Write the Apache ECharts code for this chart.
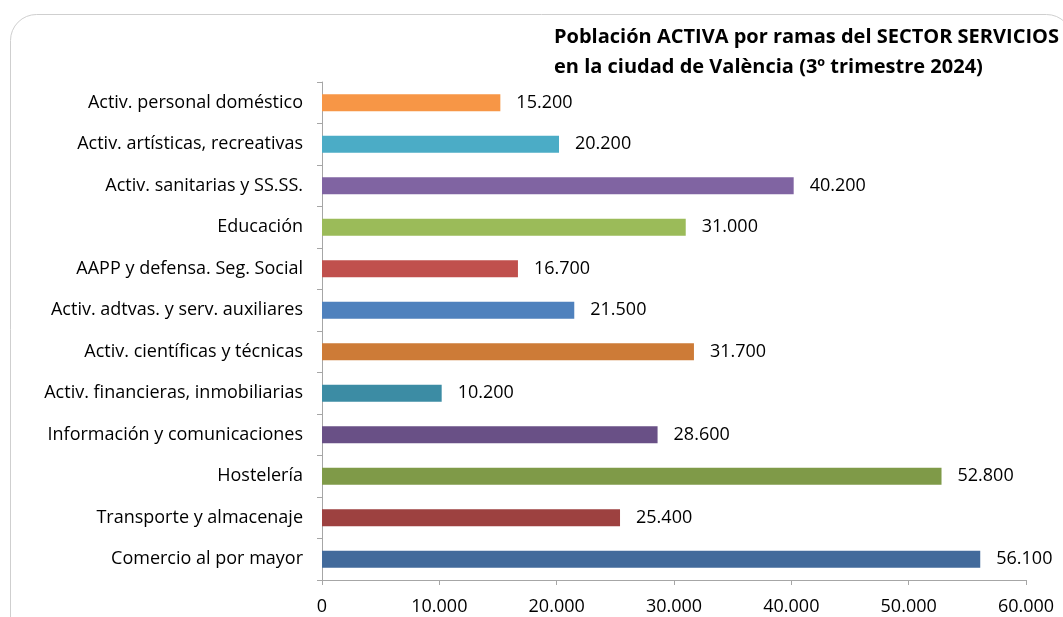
<!DOCTYPE html>
<html>
<head>
<meta charset="utf-8">
<script src="https://cdn.jsdelivr.net/npm/echarts@6/dist/echarts.min.js"></script>
<style>
html,body{margin:0;padding:0;background:#fff;}
#chart{width:1063px;height:617px;}
</style>
</head>
<body>
<div id="chart"></div>
<script>
// categorías (de abajo arriba, como las pinta el eje)
var categorias = ["Comercio al por mayor", "Transporte y almacenaje", "Hostelería",
	"Información y comunicaciones", "Activ. financieras, inmobiliarias",
	"Activ. científicas y técnicas", "Activ. adtvas. y serv. auxiliares",
	"AAPP y defensa. Seg. Social", "Educación", "Activ. sanitarias y SS.SS.",
	"Activ. artísticas, recreativas", "Activ. personal doméstico"];
var valores = [56100, 25400, 52800, 28600, 10200, 31700, 21500, 16700, 31000, 40200, 20200, 15200];
var colores = ["#426A9B", "#9D4140", "#7F9A48", "#695086", "#3C8CA4", "#CD7B37",
	"#4F81BD", "#C0504D", "#9BBB59", "#8064A2", "#4BACC6", "#F79646"];
var ticksX = [0, 10000, 20000, 30000, 40000, 50000, 60000];

var fuente = "Open Sans";

function miles(v){
	return String(v).replace(/\B(?=(\d{3})+(?!\d))/g, ".");
}

var myChart = echarts.init(document.getElementById('chart'));

var option = {
	backgroundColor: "#fff",
	animation: false,
	title: {
		text: "Población ACTIVA por ramas del SECTOR SERVICIOS\nen la ciudad de València (3º trimestre 2024)",
		left: 549,
		top: 17,
		textStyle: {
			fontFamily: fuente,
			fontWeight: "bold",
			fontSize: 20,
			lineHeight: 30,
			color: "#000"
		}
	},
	graphic: [{
		type: "rect",
		shape: {x: 10.5, y: 14.5, width: 1062, height: 640, r: 26},
		style: {fill: "none", stroke: "#cfcfcf", lineWidth: 1},
		silent: true,
		z: -1
	}],
	grid: {
		left: 322,
		right: 37,
		top: 82,
		bottom: 37,
		containLabel: false
	},
	xAxis: {
		type: "value",
		min: ticksX[0],
		max: ticksX[ticksX.length - 1],
		interval: 10000,
		splitLine: {show: false},
		axisLine: {show: true, lineStyle: {color: "#a6a6a6"}},
		axisTick: {show: true, length: 5, lineStyle: {color: "#a6a6a6"}},
		axisLabel: {
			fontFamily: fuente,
			fontSize: 18,
			color: "#000",
			margin: 18,
			formatter: function(v){ return miles(v); }
		}
	},
	yAxis: {
		type: "category",
		data: categorias,
		axisLine: {show: true, lineStyle: {color: "#a6a6a6"}},
		axisTick: {show: true, length: 5, lineStyle: {color: "#a6a6a6"}},
		axisLabel: {
			fontFamily: fuente,
			fontSize: 18,
			color: "#000",
			margin: 19
		}
	},
	series: [{
		type: "bar",
		data: valores.map(function(v, i){
			return {value: v, itemStyle: {color: colores[i]}};
		}),
		barWidth: 17,
		label: {
			show: true,
			position: "right",
			distance: 16,
			fontFamily: fuente,
			fontSize: 18,
			color: "#000",
			formatter: function(p){ return miles(p.value); }
		}
	}]
};

myChart.setOption(option);
</script>
</body>
</html>
